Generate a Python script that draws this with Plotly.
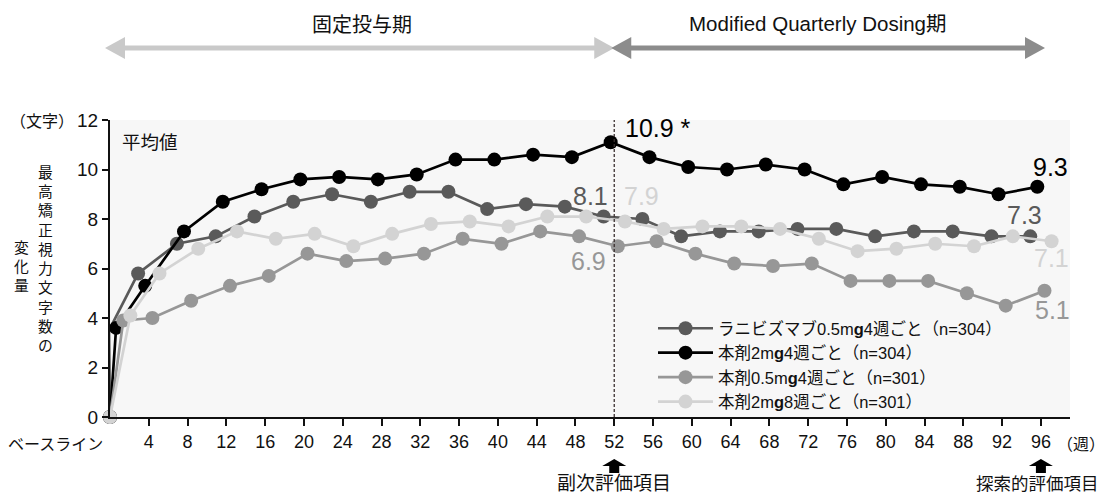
import plotly.graph_objects as go

# ---------------- data ----------------
weeks = [0, 1, 4, 8, 12, 16, 20, 24, 28, 32, 36, 40, 44, 48, 52,
         56, 60, 64, 68, 72, 76, 80, 84, 88, 92, 96]

ranibizumab_q4 = [0, 3.5, 5.8, 7.0, 7.3, 8.1, 8.7, 9.0, 8.7, 9.1, 9.1, 8.4, 8.6, 8.5, 8.1,
                  8.0, 7.3, 7.5, 7.5, 7.6, 7.6, 7.3, 7.5, 7.5, 7.3, 7.3]
drug_2mg_q4 = [0, 3.6, 5.3, 7.5, 8.7, 9.2, 9.6, 9.7, 9.6, 9.8, 10.4, 10.4, 10.6, 10.5, 11.1,
               10.5, 10.1, 10.0, 10.2, 10.0, 9.4, 9.7, 9.4, 9.3, 9.0, 9.3]
drug_05mg_q4 = [0, 3.9, 4.0, 4.7, 5.3, 5.7, 6.6, 6.3, 6.4, 6.6, 7.2, 7.0, 7.5, 7.3, 6.9,
                7.1, 6.6, 6.2, 6.1, 6.2, 5.5, 5.5, 5.5, 5.0, 4.5, 5.1]
drug_2mg_q8 = [0, 4.1, 5.8, 6.8, 7.5, 7.2, 7.4, 6.9, 7.4, 7.8, 7.9, 7.7, 8.1, 8.1, 7.9,
               7.6, 7.7, 7.7, 7.6, 7.2, 6.7, 6.8, 7.0, 6.9, 7.3, 7.1]

series_names = [
    "ラニビズマブ0.5m<b>g</b>4週ごと（n=304）",
    "本剤2m<b>g</b>4週ごと（n=304）",
    "本剤0.5m<b>g</b>4週ごと（n=301）",
    "本剤2m<b>g</b>8週ごと（n=301）",
]
series_values = [ranibizumab_q4, drug_2mg_q4, drug_05mg_q4, drug_2mg_q8]

labels_wk52 = ["8.1", "10.9 *", "6.9", "7.9"]
labels_wk96 = ["7.3", "9.3", "5.1", "7.1"]

x_tick_vals = list(range(4, 97, 4))
y_tick_vals = [0, 2, 4, 6, 8, 10, 12]

# ---------------- style ----------------
colors = ["#5a5a5a", "#000000", "#979797", "#d3d3d3"]
x_offsets = [-1.1, -0.37, 0.37, 1.1]   # small horizontal stagger of groups

OFF = 8  # page body margin
W, H = 1106 - OFF, 498 - OFF
L, R, T, B = 110 - OFF, 36, 120 - OFF, 81
PW, PH = W - L - R, H - T - B
XMAX = 99

FONT = "Liberation Sans, Arial, Noto Sans CJK JP, sans-serif"
JFONT = "Noto Sans CJK JP, Liberation Sans, sans-serif"


def px_x(px):
    """page pixel x -> paper fraction"""
    return (px - OFF - L) / PW


def px_y(py):
    """page pixel y -> paper fraction"""
    return (H - B - (py - OFF)) / PH


def wk_px(w):
    """week -> page pixel x"""
    return OFF + L + w * PW / XMAX


fig = go.Figure()
for name, vals, col, off in zip(series_names, series_values, colors, x_offsets):
    xs = [w + (off if w > 0 else 0) for w in weeks]
    fig.add_trace(go.Scatter(
        x=xs, y=vals, name=name, mode="lines+markers",
        line=dict(color=col, width=2.7),
        marker=dict(color=col, size=14),
        cliponaxis=False,
    ))

ann = []
shapes = []


def text(px, py, s, size=17, family=JFONT, xanchor="center", yanchor="middle", color="#111"):
    ann.append(dict(x=px_x(px), y=px_y(py), xref="paper", yref="paper", text=s,
                    showarrow=False, xanchor=xanchor, yanchor=yanchor,
                    font=dict(family=family, size=size, color=color)))


# value labels at week 52 and 96
idx52 = weeks.index(52)
idx96 = weeks.index(96)
lab52_pos = [("right", 6, 21), ("left", 12, 14), ("right", -10, -15), ("left", -3, 25)]
lab96_pos = [("center", -6, 21), ("left", -6, 20), ("left", -12, -19), ("left", -20, -17)]
for i in range(4):
    a, xs_, ys_ = lab52_pos[i]
    ann.append(dict(x=52 + x_offsets[i], y=series_values[i][idx52], xref="x", yref="y",
                    text=labels_wk52[i], showarrow=False, xanchor=a, yanchor="middle",
                    xshift=xs_, yshift=ys_, font=dict(family=FONT, size=25, color=colors[i])))
    a, xs_, ys_ = lab96_pos[i]
    ann.append(dict(x=96 + x_offsets[i], y=series_values[i][idx96], xref="x", yref="y",
                    text=labels_wk96[i], showarrow=False, xanchor=a, yanchor="middle",
                    xshift=xs_, yshift=ys_, font=dict(family=FONT, size=25, color=colors[i])))

# dashed line at week 52
shapes.append(dict(type="line", xref="x", yref="y", x0=52, x1=52, y0=0, y1=12,
                   line=dict(color="#3a3030", width=1.3, dash="3px,2px"), layer="above"))

# texts
text(150, 141, "平均値", size=18.5)
text(76, 120, "（文字）", size=16, xanchor="right")
text(105, 443, "ベースライン", size=16, xanchor="right")
text(1081, 443, "（週）", size=16)

# vertical y-axis title (one character per line)
col1 = "最高矯正視力文字数の"
col2 = "変化量"
text(45, 258, "<br>".join(col1), size=14.8)
text(21, 265, "<br>".join(col2), size=14.8)


# top period arrows
def harrow(x0, x1, y, col, head=20, half=11, lw=5):
    shapes.append(dict(type="line", xref="paper", yref="paper",
                       x0=px_x(x0 + head - 2), x1=px_x(x1 - head + 2), y0=px_y(y), y1=px_y(y),
                       line=dict(color=col, width=lw)))
    for tip, base in ((x0, x0 + head), (x1, x1 - head)):
        path = (f"M{px_x(tip)},{px_y(y)} L{px_x(base)},{px_y(y - half)} "
                f"L{px_x(base)},{px_y(y + half)} Z")
        shapes.append(dict(type="path", xref="paper", yref="paper", path=path,
                           fillcolor=col, line=dict(width=0)))


harrow(105, wk_px(52), 48, "#c9c9c9")
harrow(wk_px(52) - 3, 1045, 48, "#8c8c8c")
text(362, 23, "固定投与期", size=20)
text(818, 23, "Modified Quarterly Dosing期", size=20.5, family=FONT)


# bottom endpoint arrows
def uparrow(cx):
    path = (f"M{px_x(cx)},{px_y(459)} L{px_x(cx + 12)},{px_y(466)} L{px_x(cx + 5)},{px_y(466)} "
            f"L{px_x(cx + 5)},{px_y(473)} L{px_x(cx - 5)},{px_y(473)} L{px_x(cx - 5)},{px_y(466)} "
            f"L{px_x(cx - 12)},{px_y(466)} Z")
    shapes.append(dict(type="path", xref="paper", yref="paper", path=path,
                       fillcolor="#000", line=dict(width=0)))


uparrow(wk_px(52))
uparrow(wk_px(96))
text(wk_px(52), 497, "副次評価項目", size=19, yanchor="bottom")
text(1101, 497, "探索的評価項目", size=17.5, xanchor="right", yanchor="bottom")

fig.update_layout(
    width=W, height=H,
    margin=dict(l=L, r=R, t=T, b=B, pad=0),
    paper_bgcolor="white",
    plot_bgcolor="#f7f7f7",
    font=dict(family=FONT, size=18, color="#111"),
    xaxis=dict(range=[0, XMAX], tickvals=x_tick_vals, ticktext=[str(v) for v in x_tick_vals],
               ticks="outside", ticklen=7, tickwidth=2, tickcolor="#111",
               showline=True, linecolor="#111", linewidth=2, showgrid=False, zeroline=False,
               tickfont=dict(family=FONT, size=18, color="#111")),
    yaxis=dict(range=[0, 12], tickvals=y_tick_vals, ticks="outside", ticklen=6, tickwidth=2,
               tickcolor="#111", showline=True, linecolor="#111", linewidth=2,
               showgrid=False, zeroline=False,
               tickfont=dict(family=FONT, size=19, color="#111")),
    legend=dict(x=px_x(653), y=px_y(311), xanchor="left", yanchor="top",
                bgcolor="rgba(0,0,0,0)", itemwidth=55,
                font=dict(family=FONT, size=16.5, color="#111")),
    annotations=ann,
    shapes=shapes,
)

fig.write_html("out.html")
